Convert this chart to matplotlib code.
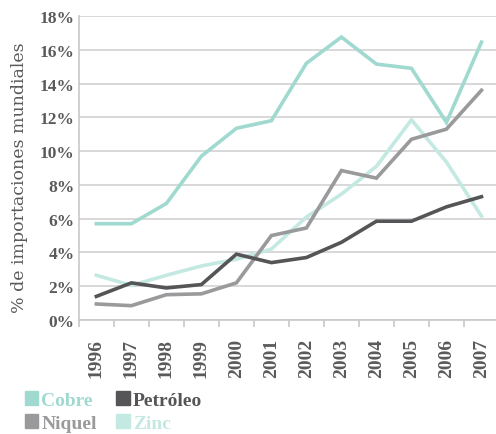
import numpy as np
import matplotlib.pyplot as plt
from matplotlib.patches import Patch
from matplotlib.ticker import FuncFormatter, MultipleLocator

years = ['1996', '1997', '1998', '1999', '2000', '2001',
         '2002', '2003', '2004', '2005', '2006', '2007']
cobre = [5.7, 5.7, 6.9, 9.7, 11.35, 11.8, 15.2, 16.75, 15.15, 14.9, 11.7, 16.45]
petroleo = [1.4, 2.2, 1.9, 2.1, 3.9, 3.4, 3.7, 4.6, 5.85, 5.85, 6.7, 7.3]
niquel = [0.95, 0.85, 1.5, 1.55, 2.2, 5.0, 5.45, 8.85, 8.4, 10.7, 11.3, 13.6]
zinc = [2.65, 2.05, 2.65, 3.2, 3.6, 4.2, 6.1, 7.45, 9.1, 11.85, 9.35, 6.15]

series = [
    ('Cobre', cobre, '#9fd9d0'),
    ('Petróleo', petroleo, '#555558'),
    ('Niquel', niquel, '#9a9a9d'),
    ('Zinc', zinc, '#c4e9e2'),
]

plt.rcParams['font.family'] = ['Liberation Serif', 'DejaVu Serif']
txt = '#5a5a5c'

fig = plt.figure(figsize=(4.96, 4.35), dpi=100)
ax = fig.add_axes([0.159, 0.262, 0.847, 0.699])

x = np.arange(len(years))
# draw back to front so Cobre sits on top
for name, vals, col in [series[3], series[2], series[1], series[0]]:
    ax.plot(x, vals, color=col, linewidth=2.6, solid_joinstyle='miter')

ax.set_xlim(-0.5, len(years) - 0.5)
ax.set_ylim(0, 18)
ax.yaxis.set_major_locator(MultipleLocator(2))
ax.yaxis.set_major_formatter(FuncFormatter(lambda v, p: f'{v:.0f}%'))
ax.grid(axis='y', color='#d2d2d2', linewidth=1.2)
ax.set_axisbelow(True)

ax.set_xticks(x)
ax.set_xticklabels(years, rotation=90)
ax.set_xticks(np.arange(-0.5, len(years)), minor=True)
ax.tick_params(axis='x', which='major', length=0, pad=13)
ax.tick_params(axis='x', which='minor', length=5, color='#c8c8c8', width=1.2)
ax.tick_params(axis='y', length=0, pad=3)
for lab in ax.get_xticklabels():
    lab.set_fontsize(14)
for lab in ax.get_yticklabels():
    lab.set_fontsize(12.5)
for lab in ax.get_xticklabels() + ax.get_yticklabels():
    lab.set_fontweight('bold')
    lab.set_color(txt)

for s in ['top', 'right']:
    ax.spines[s].set_visible(False)
for s in ['left', 'bottom']:
    ax.spines[s].set_color('#c8c8c8')
    ax.spines[s].set_linewidth(1.2)

ax.set_ylabel('% de importaciones mundiales', fontsize=12.5, color=txt,
              family='DejaVu Serif')
ax.yaxis.set_label_coords(-0.122, 0.47)

# legend fills column-wise: Cobre/Niquel in the first column, Petróleo/Zinc in the second
order = [0, 2, 1, 3]
handles = [Patch(color=series[i][2]) for i in order]
leg = fig.legend(handles, [series[i][0] for i in order],
                 ncol=2, loc='lower left', bbox_to_anchor=(0.046, 0.0),
                 frameon=False, fontsize=14, handlelength=0.7, handleheight=0.7,
                 handletextpad=0.15, columnspacing=1.0, labelspacing=0.3,
                 borderpad=0.1, borderaxespad=0)
for t, i in zip(leg.get_texts(), order):
    t.set_color(series[i][2])
    t.set_fontweight('bold')

fig.savefig('out.png', dpi=100)
